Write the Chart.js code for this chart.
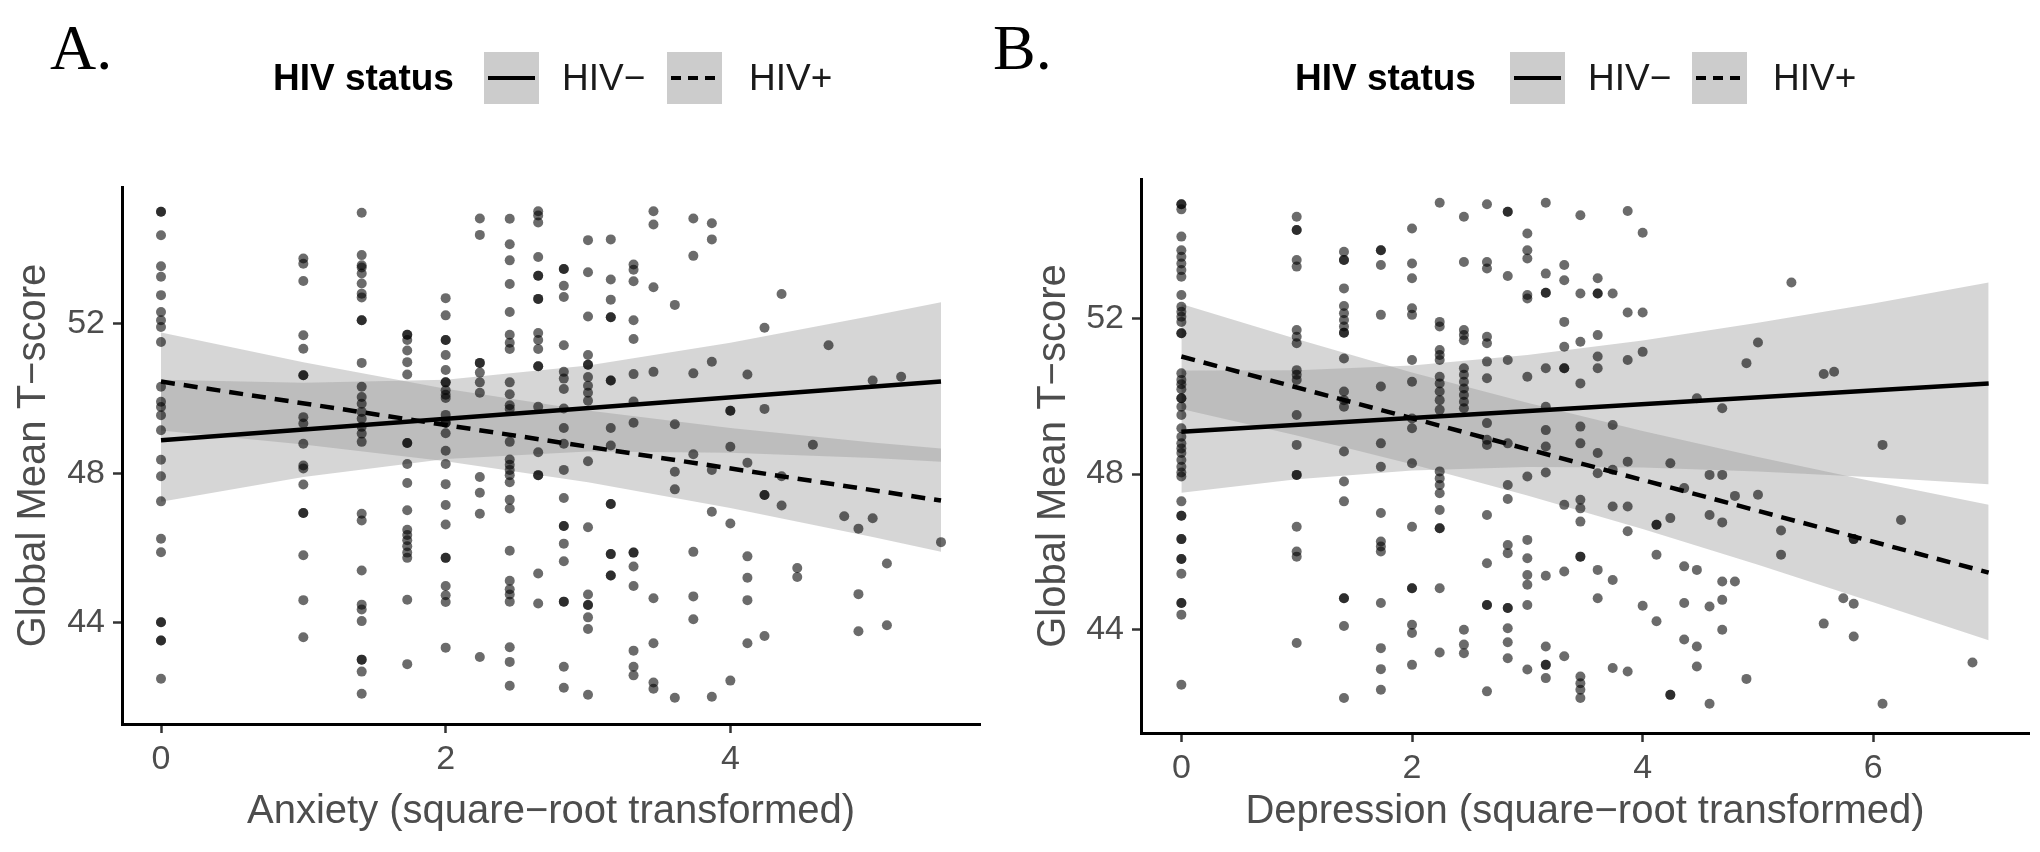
<!DOCTYPE html>
<html lang="en">
<head>
<meta charset="utf-8">
<title>Global Mean T-score vs anxiety and depression</title>
<script src="https://cdn.jsdelivr.net/npm/chart.js"></script>
<style>
  html, body { margin: 0; padding: 0; background: #fff; }
  #page { position: relative; width: 2040px; height: 852px; overflow: hidden; font-family: "Liberation Sans", Arial, sans-serif; }
  canvas { position: absolute; top: 0; }
  .tag { position: absolute; top: 16px; font-family: "Liberation Serif", "Times New Roman", serif; font-size: 64px; line-height: 64px; color: #000; }
  .lg { position: absolute; top: 52px; height: 52px; line-height: 52px; font-size: 37px; color: #1a1a1a; white-space: nowrap; }
  .lg.title { font-weight: bold; color: #000; }
  .key { position: absolute; top: 52px; width: 55px; height: 52px; background: #cccccc; }
  .key span { position: absolute; left: 4px; right: 4px; top: 24px; height: 4px; background: #000; }
  .key.dash span { background: repeating-linear-gradient(to right, #000 0 10px, transparent 10px 17px); }
</style>
</head>
<body>
<div id="page">
  <canvas id="chartA" width="1020" height="852" style="left:0"></canvas>
  <canvas id="chartB" width="1020" height="852" style="left:1020px"></canvas>

  <div class="tag" style="left:50px">A.</div>
  <div class="lg title" style="left:273px">HIV status</div>
  <div class="key" style="left:484px"><span></span></div>
  <div class="lg" style="left:562px">HIV−</div>
  <div class="key dash" style="left:667px"><span></span></div>
  <div class="lg" style="left:749px">HIV+</div>

  <div class="tag" style="left:993px">B.</div>
  <div class="lg title" style="left:1295px">HIV status</div>
  <div class="key" style="left:1510px"><span></span></div>
  <div class="lg" style="left:1588px">HIV−</div>
  <div class="key dash" style="left:1692px"><span></span></div>
  <div class="lg" style="left:1773px">HIV+</div>
</div>
<script>
// tick labels
const yTicks = [44, 48, 52];
const anxTicks = [0, 2, 4];
const depTicks = [0, 2, 4, 6];

// Panel A: anxiety (square-root) columns and the T-scores found at each
const anxCols = [0, 1, 1.41, 1.73, 2, 2.24, 2.45, 2.65, 2.83, 3, 3.16, 3.32, 3.46, 3.61, 3.74,
  3.87, 4, 4.12, 4.24, 4.36, 4.47, 4.58, 4.69, 4.80, 4.90, 5.00, 5.10, 5.20, 5.48];
const anxScores = [
  [54.99, 54.99, 54.36, 53.53, 53.25, 52.76, 52.31, 52.09, 51.91, 51.51, 50.31, 49.91, 49.77, 49.55, 49.15, 48.36, 47.92, 47.25, 46.25, 45.89, 44.02, 44.02, 43.53, 43.53, 42.51],
  [53.74, 53.60, 53.14, 51.69, 51.33, 50.62, 50.62, 49.50, 49.33, 48.79, 48.21, 48.13, 47.70, 46.94, 46.94, 45.81, 44.61, 43.62],
  [54.96, 53.83, 53.56, 53.50, 53.34, 53.07, 52.80, 52.70, 52.09, 52.09, 50.95, 50.31, 50.04, 49.86, 49.64, 49.46, 49.24, 49.06, 48.84, 46.92, 46.74, 45.40, 44.49, 44.36, 44.05, 43.02, 43.02, 42.70, 42.11],
  [51.70, 51.70, 51.56, 51.28, 50.97, 50.64, 48.81, 48.81, 48.25, 47.74, 47.01, 46.49, 46.35, 46.21, 46.05, 45.88, 45.74, 44.62, 42.90],
  [52.68, 52.22, 51.56, 51.56, 51.16, 50.76, 50.43, 50.43, 50.22, 50.10, 50.01, 49.56, 49.35, 49.35, 49.07, 48.60, 48.25, 47.71, 47.15, 46.63, 45.74, 45.74, 44.99, 44.74, 44.56, 43.34],
  [54.81, 54.37, 50.95, 50.95, 50.69, 50.43, 50.15, 47.90, 47.48, 46.92, 43.09],
  [54.80, 54.12, 53.69, 53.06, 52.31, 51.70, 51.49, 51.32, 50.43, 50.11, 49.82, 49.72, 48.84, 48.37, 48.23, 48.09, 47.95, 47.76, 47.29, 47.06, 45.93, 45.13, 44.90, 44.76, 44.57, 43.35, 42.96, 42.32],
  [55.00, 54.89, 54.70, 53.78, 53.28, 53.28, 52.66, 52.66, 51.75, 51.56, 51.32, 50.86, 50.86, 49.78, 48.56, 47.95, 47.95, 45.32, 44.52],
  [53.46, 53.46, 53.01, 52.71, 51.42, 50.71, 50.53, 50.25, 49.73, 49.21, 48.79, 48.09, 47.34, 46.59, 46.59, 46.12, 45.65, 44.57, 44.57, 42.83, 42.27],
  [54.23, 53.37, 52.19, 51.16, 50.90, 50.90, 50.57, 50.34, 50.15, 49.94, 48.32, 46.56, 44.76, 44.48, 44.48, 44.15, 43.84, 42.08],
  [54.25, 53.18, 52.64, 52.17, 52.17, 50.48, 50.48, 49.21, 48.74, 47.18, 47.18, 45.84, 45.84, 45.27, 45.27],
  [53.58, 53.44, 53.13, 52.09, 51.59, 50.65, 49.92, 49.35, 45.88, 45.88, 45.51, 44.99, 43.26, 42.83, 42.60],
  [55.00, 54.65, 52.97, 50.71, 44.66, 43.46, 42.41, 42.24],
  [52.50, 49.31, 48.04, 47.57, 42.00],
  [54.81, 53.81, 50.67, 48.51, 45.90, 44.71, 44.10],
  [54.68, 54.25, 50.98, 48.09, 46.97, 42.03],
  [49.67, 49.67, 48.71, 46.66, 42.46],
  [50.64, 48.28, 45.78, 45.21, 44.61, 43.46],
  [51.89, 49.72, 47.42, 47.42, 43.65],
  [52.79, 47.92, 47.14],
  [45.47, 45.23],
  [48.76],
  [51.42],
  [46.85],
  [46.52, 44.77, 43.78],
  [50.48, 46.80],
  [45.59, 43.94],
  [50.58],
  [46.16]
];
const anxFitX = [0, 5.48];
const anxFitNeg = [48.88, 50.45];
const anxFitPos = [50.45, 47.27];
const anxBandX = [0, 1, 2, 3, 4, 5, 5.48];
const anxNegLo = [47.24, 47.90, 48.38, 48.58, 48.55, 48.41, 48.31];
const anxNegHi = [50.50, 50.42, 50.50, 50.88, 51.49, 52.21, 52.57];
const anxPosLo = [49.14, 48.77, 48.32, 47.76, 47.07, 46.30, 45.90];
const anxPosHi = [51.76, 50.97, 50.26, 49.68, 49.21, 48.82, 48.66];

// Panel B: depression (square-root) columns
const depCols = [0, 1, 1.41, 1.73, 2, 2.24, 2.45, 2.65, 2.83, 3, 3.16, 3.32, 3.46, 3.61, 3.74,
  3.87, 4, 4.12, 4.24, 4.36, 4.47, 4.58, 4.69, 4.80, 4.90, 5, 5.20, 5.29, 5.57, 5.66, 5.74,
  5.83, 6.08, 6.24, 6.86];
const depScores = [
  [54.93, 54.93, 54.80, 54.10, 53.75, 53.58, 53.41, 53.24, 53.07, 52.60, 52.30, 52.17, 52.04, 51.91, 51.62, 51.62, 50.59, 50.42, 50.31, 50.18, 49.95, 49.95, 49.73, 49.52, 49.18, 48.96, 48.79, 48.66, 48.54, 48.36, 48.19, 48.04, 47.94, 47.30, 46.93, 46.93, 46.33, 46.33, 45.82, 45.82, 45.44, 44.69, 44.69, 44.39, 42.59],
  [54.61, 54.27, 54.27, 53.50, 53.33, 51.70, 51.53, 51.36, 50.67, 50.55, 50.42, 49.52, 48.75, 47.98, 47.98, 46.65, 46.01, 45.88, 43.66],
  [53.71, 53.50, 53.50, 52.77, 52.32, 52.13, 51.96, 51.79, 51.63, 51.63, 50.97, 50.12, 49.90, 49.73, 48.58, 47.81, 47.30, 44.81, 44.81, 44.10, 42.25],
  [53.75, 53.75, 53.37, 52.09, 50.25, 48.79, 48.19, 47.00, 46.27, 46.14, 46.01, 44.69, 43.53, 42.99, 42.46],
  [54.31, 53.41, 53.03, 52.26, 52.09, 50.93, 50.37, 49.43, 49.18, 48.28, 46.65, 45.07, 45.07, 44.13, 43.92, 43.10],
  [54.97, 51.91, 51.79, 51.19, 51.06, 50.93, 50.50, 50.33, 50.12, 49.90, 49.65, 48.07, 47.89, 47.72, 47.51, 47.08, 46.61, 46.61, 45.07, 43.42],
  [54.61, 53.45, 51.70, 51.57, 51.44, 50.72, 50.55, 50.37, 50.20, 50.03, 49.86, 49.69, 44.00, 43.62, 43.40],
  [54.93, 53.45, 53.28, 51.53, 51.36, 50.89, 50.46, 49.31, 48.88, 48.75, 46.95, 45.71, 44.64, 44.64, 42.42],
  [54.74, 54.74, 53.09, 50.93, 48.79, 47.72, 47.36, 46.18, 45.97, 44.56, 44.56, 44.04, 43.68, 43.27],
  [54.18, 53.75, 53.54, 52.60, 52.51, 50.50, 47.94, 46.31, 45.84, 45.41, 45.16, 44.64, 42.98],
  [54.97, 53.15, 52.66, 52.66, 50.72, 49.73, 49.13, 48.71, 48.04, 45.39, 43.57, 43.10, 43.10, 42.76],
  [53.37, 52.98, 51.91, 51.27, 50.72, 50.72, 47.21, 45.50, 43.32],
  [54.65, 52.64, 51.40, 50.33, 49.22, 48.79, 47.34, 47.12, 46.78, 45.88, 45.88, 42.80, 42.63, 42.46, 42.25],
  [53.03, 52.64, 52.64, 51.57, 51.02, 50.72, 48.54, 48.02, 45.54, 44.81],
  [52.64, 49.26, 48.11, 47.17, 45.28, 43.02],
  [54.76, 52.15, 50.93, 48.32, 47.17, 46.53, 42.93],
  [54.20, 52.15, 51.14, 44.62],
  [46.70, 46.70, 45.93, 44.22],
  [48.28, 46.87, 42.33, 42.33],
  [47.64, 45.63, 44.69, 43.75],
  [49.95, 45.54, 43.57, 43.06],
  [47.98, 46.95, 44.60, 42.10],
  [49.69, 47.98, 46.76, 45.24, 44.77, 44.00],
  [47.44, 45.24],
  [50.85, 42.74],
  [51.38, 47.47],
  [46.55, 45.93],
  [52.92],
  [50.57, 44.16],
  [50.63],
  [44.81],
  [46.33, 46.33, 44.67, 43.83],
  [48.75, 42.10],
  [46.82],
  [43.16]
];
const depFitX = [0, 7];
const depFitNeg = [49.09, 50.33];
const depFitPos = [51.02, 45.47];
const depBandX = [0, 1, 2, 3, 4, 5, 6, 7];
const depNegLo = [47.52, 47.87, 48.09, 48.18, 48.17, 48.07, 47.92, 47.74];
const depNegHi = [50.66, 50.67, 50.79, 51.06, 51.43, 51.89, 52.38, 52.92];
const depPosLo = [49.67, 48.99, 48.25, 47.45, 46.59, 45.67, 44.71, 43.73];
const depPosHi = [52.37, 51.47, 50.61, 49.83, 49.11, 48.44, 47.81, 47.21];

const W = 1020, H = 852;
const TEXT = '#4d4d4d';
const BAND = 'rgba(153,153,153,0.4)';
const NONE = 'rgba(0,0,0,0)';

function xy(xs, ys) {
  return xs.map((x, i) => ({ x: x, y: ys[i] }));
}

function band(xs, lo, hi) {
  return [
    { type: 'line', data: xy(xs, lo), borderColor: NONE, pointRadius: 0, fill: false, order: 3 },
    { type: 'line', data: xy(xs, hi), borderColor: NONE, pointRadius: 0, fill: '-1', backgroundColor: BAND, order: 3 }
  ];
}

function fitLine(xs, ys, dash) {
  return { type: 'line', data: xy(xs, ys), borderColor: '#000', borderWidth: 4.5, borderDash: dash,
    pointRadius: 0, fill: false, order: 0 };
}

function panel(id, p) {
  const cloud = [];
  p.cols.forEach((x, i) => p.scores[i].forEach(y => cloud.push({ x: x, y: y })));

  const datasets = [].concat(
    band(p.bandX, p.negLo, p.negHi),
    band(p.bandX, p.posLo, p.posHi),
    [{ type: 'scatter', data: cloud, pointRadius: 5, pointHoverRadius: 5,
       backgroundColor: 'rgba(0,0,0,0.58)', borderColor: NONE, order: 1 }],
    [fitLine(p.fitX, p.fitNeg, []), fitLine(p.fitX, p.fitPos, [14, 9])]
  );

  new Chart(document.getElementById(id), {
    type: 'scatter',
    data: { datasets: datasets },
    options: {
      responsive: false,
      animation: false,
      devicePixelRatio: 1,
      layout: { padding: { top: p.area.top, right: W - p.area.right, left: 0, bottom: 0 } },
      plugins: { legend: { display: false }, tooltip: { enabled: false } },
      scales: {
        x: {
          type: 'linear', min: p.xMin, max: p.xMax,
          afterBuildTicks: s => { s.ticks = p.xTicks.map(v => ({ value: v })); },
          afterFit: s => { s.height = H - p.area.bottom; },
          border: { display: true, color: '#000', width: 3 },
          grid: { display: true, drawOnChartArea: false, drawTicks: true, tickLength: 9, tickColor: '#333', tickWidth: 2.5 },
          ticks: { color: TEXT, padding: 6, font: { family: 'Liberation Sans', size: 34 } },
          title: { display: true, text: p.xTitle, color: TEXT, padding: { top: 0, bottom: 16 },
            font: { family: 'Liberation Sans', size: 40 } }
        },
        y: {
          type: 'linear', min: p.yMin, max: p.yMax,
          afterBuildTicks: s => { s.ticks = yTicks.map(v => ({ value: v })); },
          afterFit: s => { s.width = p.area.left; },
          border: { display: true, color: '#000', width: 3 },
          grid: { display: true, drawOnChartArea: false, drawTicks: true, tickLength: 9, tickColor: '#333', tickWidth: 2.5 },
          ticks: { color: TEXT, padding: 8, font: { family: 'Liberation Sans', size: 34 } },
          title: { display: true, text: 'Global Mean T−score', color: TEXT, padding: { top: 10, bottom: 0 },
            font: { family: 'Liberation Sans', size: 40 } }
        }
      }
    }
  });
}

panel('chartA', {
  cols: anxCols, scores: anxScores,
  fitX: anxFitX, fitNeg: anxFitNeg, fitPos: anxFitPos,
  bandX: anxBandX, negLo: anxNegLo, negHi: anxNegHi, posLo: anxPosLo, posHi: anxPosHi,
  xMin: -0.274, xMax: 5.754, yMin: 41.3, yMax: 55.65, xTicks: anxTicks,
  xTitle: 'Anxiety (square−root transformed)',
  area: { left: 122, right: 980, top: 187, bottom: 724 }
});

panel('chartB', {
  cols: depCols, scores: depScores,
  fitX: depFitX, fitNeg: depFitNeg, fitPos: depFitPos,
  bandX: depBandX, negLo: depNegLo, negHi: depNegHi, posLo: depPosLo, posHi: depPosHi,
  xMin: -0.35, xMax: 7.35, yMin: 41.35, yMax: 55.58, xTicks: depTicks,
  xTitle: 'Depression (square−root transformed)',
  area: { left: 121, right: 1009, top: 179, bottom: 733 }
});
</script>
</body>
</html>
